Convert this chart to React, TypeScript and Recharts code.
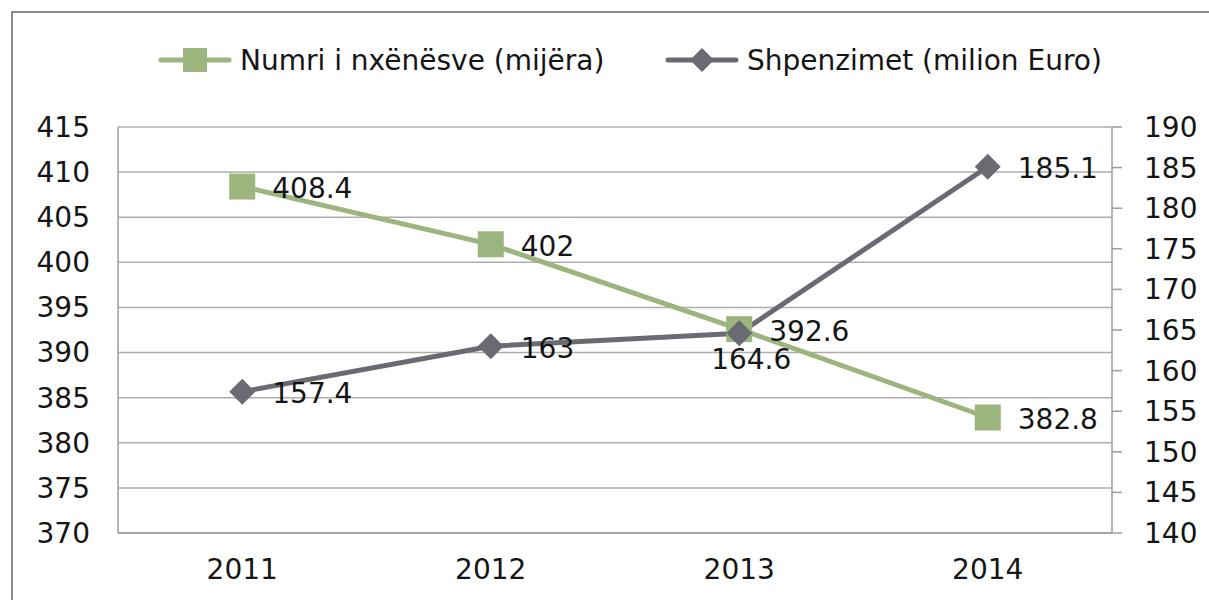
import { CartesianGrid, LabelList, Line, LineChart, XAxis, YAxis } from "recharts";

const years = ["2011", "2012", "2013", "2014"];
const students = [408.4, 402, 392.6, 382.8];
const spending = [157.4, 163, 164.6, 185.1];
const leftTicks = [370, 375, 380, 385, 390, 395, 400, 405, 410, 415];
const rightTicks = [140, 145, 150, 155, 160, 165, 170, 175, 180, 185, 190];

const GREEN = "#9CB47E";
const GRAY = "#6A6A72";
const GRID = "#ADADAD";
const AXIS = "#9C9C9C";
const TEXT = "#151515";
const FONT = "'DejaVu Sans', sans-serif";
const FS = 28;

const data = years.map((year, i) => ({
  year,
  students: students[i],
  spending: spending[i],
}));

const SquareDot = (props: any) => {
  const { cx, cy } = props;
  if (cx == null || cy == null) return null;
  return <rect x={cx - 13} y={cy - 13} width={26} height={26} fill={GREEN} />;
};

const DiamondDot = (props: any) => {
  const { cx, cy } = props;
  if (cx == null || cy == null) return null;
  const r = 13;
  return (
    <polygon
      points={`${cx},${cy - r} ${cx + r},${cy} ${cx},${cy + r} ${cx - r},${cy}`}
      fill={GRAY}
    />
  );
};

const rightLabel = (props: any) => {
  const { x, y, value } = props;
  return (
    <text
      x={x + 30}
      y={y + 2}
      fill={TEXT}
      fontSize={FS}
      fontFamily={FONT}
      textAnchor="start"
      dominantBaseline="central"
    >
      {value}
    </text>
  );
};

// 2013 spending label sits under its point, the rest to the right
const spendingLabel = (props: any) => {
  const { x, y, value, index } = props;
  if (index === 2) {
    return (
      <text
        x={x + 12}
        y={y + 26}
        fill={TEXT}
        fontSize={FS}
        fontFamily={FONT}
        textAnchor="middle"
        dominantBaseline="central"
      >
        {value}
      </text>
    );
  }
  return rightLabel(props);
};

const tickStyle = { fill: TEXT, fontSize: FS, fontFamily: FONT };

const Legend = () => (
  <svg width={1209} height={120} style={{ position: "absolute", left: 0, top: 0 }}>
    <line x1={161} y1={60} x2={229} y2={60} stroke={GREEN} strokeWidth={5} strokeLinecap="round" />
    <rect x={183} y={48} width={24} height={24} fill={GREEN} />
    <line x1={668} y1={60} x2={736} y2={60} stroke={GRAY} strokeWidth={5} strokeLinecap="round" />
    <polygon points="702,48 714,60 702,72 690,60" fill={GRAY} />
    <text x={240} y={60} dominantBaseline="central" fill={TEXT} fontSize={FS} fontFamily={FONT}>
      Numri i nxënësve (mijëra)
    </text>
    <text x={747} y={60} dominantBaseline="central" fill={TEXT} fontSize={FS} fontFamily={FONT}>
      Shpenzimet (milion Euro)
    </text>
  </svg>
);

export default function App() {
  return (
    <div
      style={{
        position: "fixed",
        left: 0,
        top: 0,
        width: 1209,
        height: 600,
        background: "#fff",
        overflow: "hidden",
      }}
    >
      <div
        style={{
          position: "absolute",
          left: 11,
          top: 11,
          width: 1300,
          height: 700,
          borderLeft: "2px solid #8C8C8C",
          borderTop: "2px solid #8C8C8C",
        }}
      />
      <Legend />
      <div style={{ position: "absolute", left: 0, top: 0 }}>
        <LineChart
          width={1209}
          height={600}
          data={data}
          margin={{ top: 127, right: 0, bottom: 0, left: 0 }}
        >
          <CartesianGrid yAxisId="left" vertical={false} stroke={GRID} strokeWidth={1.5} />
          <XAxis
            dataKey="year"
            scale="band"
            height={67}
            tickLine={false}
            tickSize={0}
            tickMargin={26}
            axisLine={{ stroke: AXIS, strokeWidth: 1.5 }}
            tick={tickStyle}
          />
          <YAxis
            yAxisId="left"
            width={118}
            domain={[370, 415]}
            ticks={leftTicks}
            interval={0}
            tickLine={false}
            tickSize={0}
            tickMargin={28}
            axisLine={{ stroke: AXIS, strokeWidth: 1.5 }}
            tick={tickStyle}
          />
          <YAxis
            yAxisId="right"
            orientation="right"
            width={97}
            domain={[140, 190]}
            ticks={rightTicks}
            interval={0}
            tickSize={10}
            tickMargin={22}
            tickLine={{ stroke: AXIS, strokeWidth: 1.5 }}
            axisLine={{ stroke: AXIS, strokeWidth: 1.5 }}
            tick={tickStyle}
          />
          <Line
            yAxisId="left"
            type="linear"
            dataKey="students"
            stroke={GREEN}
            strokeWidth={5}
            dot={<SquareDot />}
            activeDot={false}
            isAnimationActive={false}
          >
            <LabelList dataKey="students" content={rightLabel} />
          </Line>
          <Line
            yAxisId="right"
            type="linear"
            dataKey="spending"
            stroke={GRAY}
            strokeWidth={5}
            dot={<DiamondDot />}
            activeDot={false}
            isAnimationActive={false}
          >
            <LabelList dataKey="spending" content={spendingLabel} />
          </Line>
        </LineChart>
      </div>
    </div>
  );
}
